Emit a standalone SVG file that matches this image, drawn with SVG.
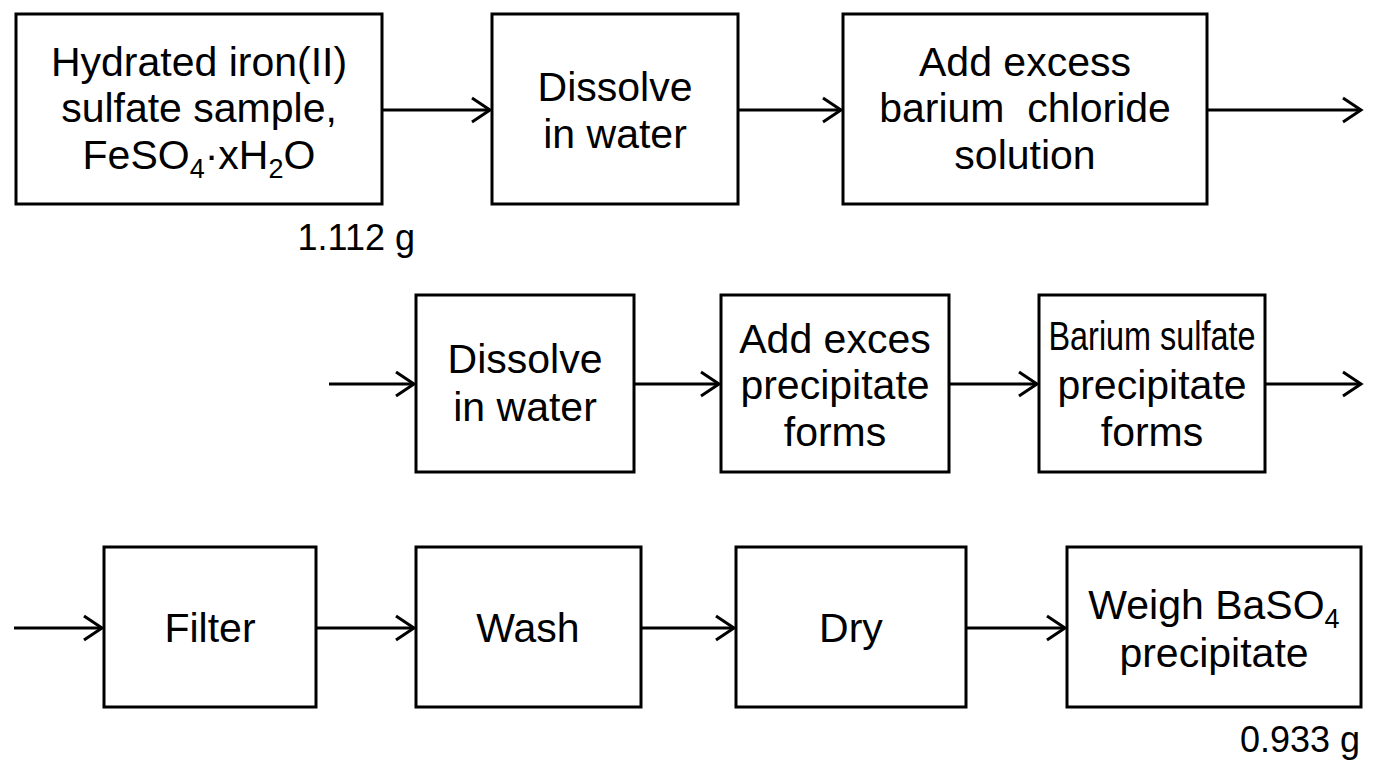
<svg xmlns="http://www.w3.org/2000/svg" width="1376" height="768" viewBox="0 0 1376 768">
<style>
.box{fill:#fff;stroke:#000;stroke-width:3}
.t{font-family:"Liberation Sans",Arial,sans-serif;font-size:41px;fill:#000;text-anchor:middle}
.m{font-family:"Liberation Sans",Arial,sans-serif;font-size:36px;fill:#000;text-anchor:end}
.c{stroke:#000;stroke-width:3;fill:none}
</style>
<defs>
<marker id="ah" markerUnits="userSpaceOnUse" markerWidth="26" markerHeight="30" viewBox="0 0 26 30" refX="22" refY="15" orient="auto">
<path d="M4,3 L22,15 L4,27" fill="none" stroke="#000" stroke-width="3" stroke-linejoin="miter"/>
</marker>
</defs>
<rect width="1376" height="768" fill="#fff"/>
<g id="connectors">
<line class="c" x1="382" y1="110" x2="490" y2="110" marker-end="url(#ah)"/>
<line class="c" x1="738" y1="110" x2="841" y2="110" marker-end="url(#ah)"/>
<line class="c" x1="1207" y1="110" x2="1361" y2="110" marker-end="url(#ah)"/>
<line class="c" x1="329" y1="384" x2="414" y2="384" marker-end="url(#ah)"/>
<line class="c" x1="634" y1="384" x2="719" y2="384" marker-end="url(#ah)"/>
<line class="c" x1="949" y1="384" x2="1037" y2="384" marker-end="url(#ah)"/>
<line class="c" x1="1265" y1="384" x2="1361" y2="384" marker-end="url(#ah)"/>
<line class="c" x1="14" y1="628" x2="102" y2="628" marker-end="url(#ah)"/>
<line class="c" x1="316" y1="628" x2="414" y2="628" marker-end="url(#ah)"/>
<line class="c" x1="641" y1="628" x2="734" y2="628" marker-end="url(#ah)"/>
<line class="c" x1="966" y1="628" x2="1065" y2="628" marker-end="url(#ah)"/>
</g>
<g id="sample">
<rect class="box" x="16" y="14" width="366" height="190"/>
<text class="t" x="199" y="76">Hydrated iron(II)</text>
<text class="t" x="199" y="122">sulfate sample,</text>
<text class="t" x="199" y="169">FeSO<tspan font-size="27" dy="9">4</tspan><tspan dy="-9">·xH</tspan><tspan font-size="27" dy="9">2</tspan><tspan dy="-9">O</tspan></text>
<text class="m" x="415" y="250">1.112 g</text>
</g>
<g id="dissolve1">
<rect class="box" x="492" y="14" width="246" height="190"/>
<text class="t" x="615" y="101">Dissolve</text>
<text class="t" x="615" y="148">in water</text>
</g>
<g id="addbacl2">
<rect class="box" x="843" y="14" width="364" height="190"/>
<text class="t" x="1025" y="76">Add excess</text>
<text class="t" x="1025" y="122" style="white-space:pre">barium  chloride</text>
<text class="t" x="1025" y="169">solution</text>
</g>
<g id="dissolve2">
<rect class="box" x="416" y="295" width="218" height="177"/>
<text class="t" x="525" y="373">Dissolve</text>
<text class="t" x="525" y="421">in water</text>
</g>
<g id="addexces">
<rect class="box" x="721" y="295" width="228" height="177"/>
<text class="t" x="835" y="353">Add exces</text>
<text class="t" x="835" y="399">precipitate</text>
<text class="t" x="835" y="446">forms</text>
</g>
<g id="baso4forms">
<rect class="box" x="1039" y="295" width="226" height="177"/>
<text class="t" x="1152" y="350" font-size="34" textLength="207" lengthAdjust="spacingAndGlyphs">Barium sulfate</text>
<text class="t" x="1152" y="399">precipitate</text>
<text class="t" x="1152" y="446">forms</text>
</g>
<g id="filter">
<rect class="box" x="104" y="547" width="212" height="160"/>
<text class="t" x="210" y="642">Filter</text>
</g>
<g id="wash">
<rect class="box" x="416" y="547" width="225" height="160"/>
<text class="t" x="528" y="642">Wash</text>
</g>
<g id="dry">
<rect class="box" x="736" y="547" width="230" height="160"/>
<text class="t" x="851" y="642">Dry</text>
</g>
<g id="weigh">
<rect class="box" x="1067" y="547" width="294" height="160"/>
<text class="t" x="1214" y="619">Weigh BaSO<tspan font-size="27" dy="9">4</tspan></text>
<text class="t" x="1214" y="667">precipitate</text>
<text class="m" x="1360" y="752">0.933 g</text>
</g>
</svg>
